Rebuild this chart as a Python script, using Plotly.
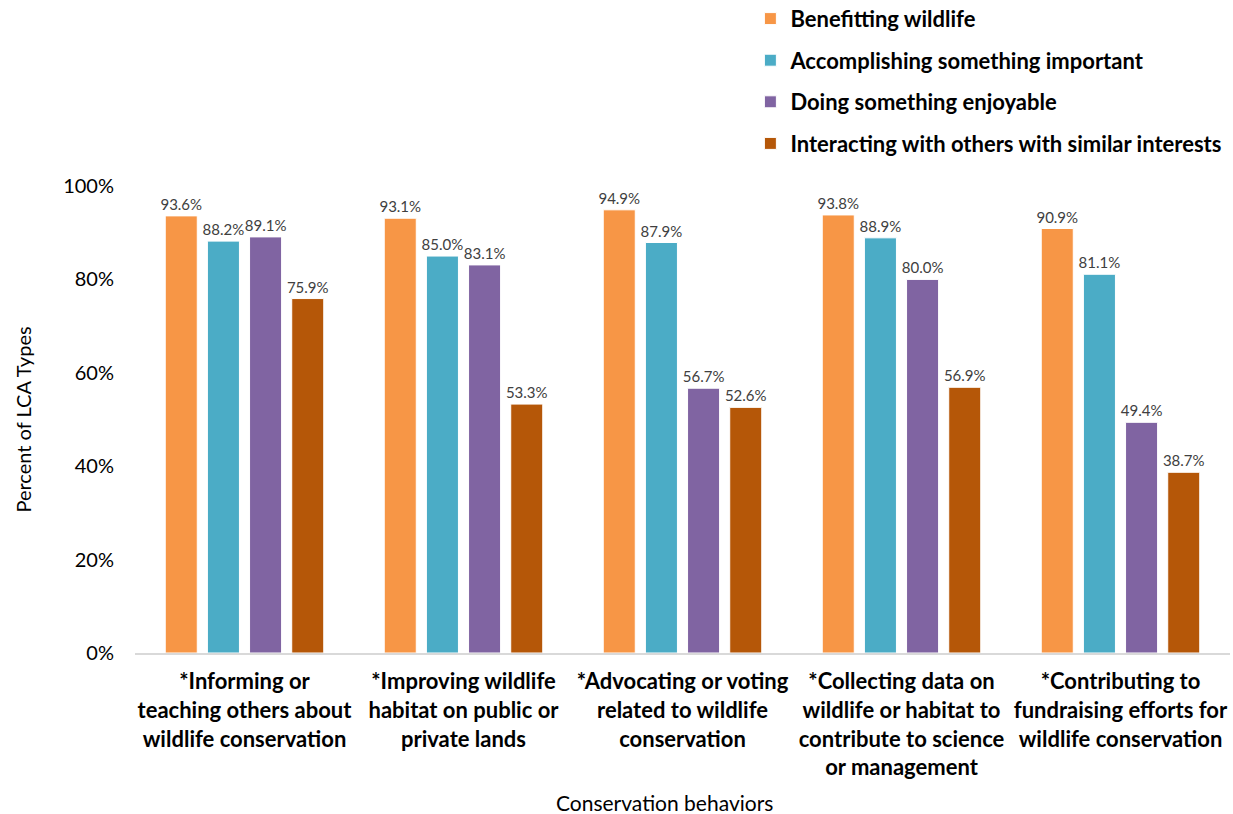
import plotly.graph_objects as go

categories = [
    "*Informing or<br>teaching others about<br>wildlife conservation",
    "*Improving wildlife<br>habitat on public or<br>private lands",
    "*Advocating or voting<br>related to wildlife<br>conservation",
    "*Collecting data on<br>wildlife or habitat to<br>contribute to science<br>or management",
    "*Contributing to<br>fundraising efforts for<br>wildlife conservation",
]
series_names = [
    "Benefitting wildlife",
    "Accomplishing something important",
    "Doing something enjoyable",
    "Interacting with others with similar interests",
]
benefitting = [93.6, 93.1, 94.9, 93.8, 90.9]
accomplishing = [88.2, 85.0, 87.9, 88.9, 81.1]
enjoyable = [89.1, 83.1, 56.7, 80.0, 49.4]
interacting = [75.9, 53.3, 52.6, 56.9, 38.7]
y_ticks = [0, 20, 40, 60, 80, 100]

colors = ["#F79646", "#4BACC6", "#8064A2", "#B55708"]
FONT = "Lato"

fig = go.Figure()
for i, (name, vals) in enumerate(zip(series_names, [benefitting, accomplishing, enjoyable, interacting])):
    fig.add_trace(go.Bar(
        name=name,
        x=categories,
        y=vals,
        marker=dict(color=colors[i], line=dict(color="white", width=1)),
        text=[f"{v:.1f}%" for v in vals],
        textposition="outside",
        constraintext="none",
        cliponaxis=False,
        textfont=dict(family=FONT, size=15, color="#404040"),
        legendgroup=f"g{i}",
    ))

fig.update_layout(
    width=1233, height=814,
    margin=dict(l=135, r=3, t=186, b=161, autoexpand=False),
    plot_bgcolor="white", paper_bgcolor="white",
    barmode="group", bargap=0.23, bargroupgap=0.24,
    font=dict(family=FONT, color="#000000"),
    legend=dict(
        x=0.562, y=1.403, xanchor="left", yanchor="top",
        font=dict(family=FONT, size=22, color="#000000", weight="bold"),
        tracegroupgap=10, itemwidth=30,
    ),
    xaxis=dict(
        showline=True, linecolor="#D9D9D9", linewidth=2,
        ticks="", tickfont=dict(family=FONT, size=22, color="#000000", weight="bold"),
        ticklabelstandoff=8,
    ),
    yaxis=dict(
        range=[0, 100], tickvals=y_ticks, ticktext=[f"{t}%" for t in y_ticks],
        showgrid=False, zeroline=False, showline=False, ticks="",
        tickfont=dict(family=FONT, size=20, color="#000000"),
        ticklabelstandoff=20,
        title=dict(text="Percent of LCA Types", font=dict(family=FONT, size=20, color="#000000"), standoff=26),
    ),
    annotations=[dict(
        text="Conservation behaviors", xref="paper", yref="paper",
        x=0.484, y=0, yshift=-149, xanchor="center", yanchor="middle",
        showarrow=False, font=dict(family=FONT, size=21, color="#000000"),
    )],
)

fig.write_html("out.html")
